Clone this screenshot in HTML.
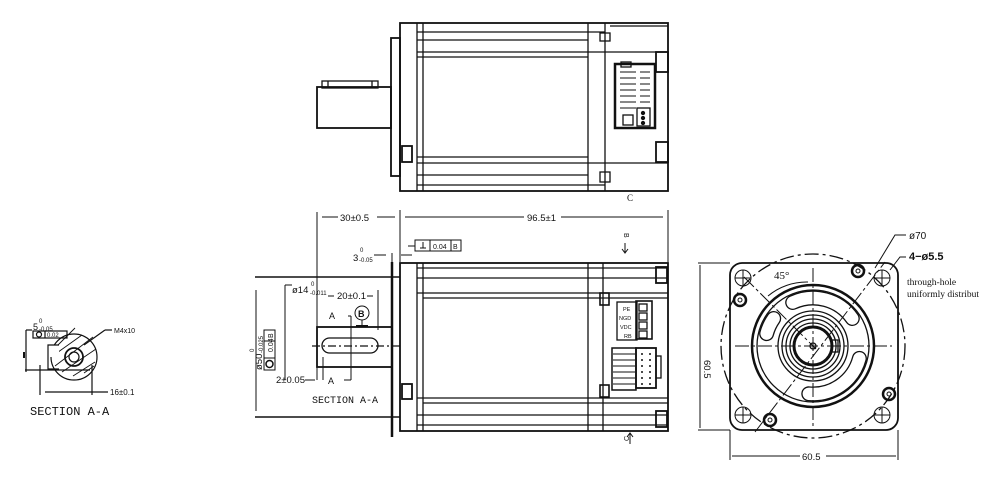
<!DOCTYPE html>
<html><head><meta charset="utf-8"><style>
html,body{margin:0;padding:0;background:#fff;}
svg{display:block}
text{font-family:"Liberation Sans",sans-serif;fill:#111}
.m{font-family:"Liberation Mono",monospace}
.s{font-family:"Liberation Serif",serif}
</style></head><body>
<svg width="1000" height="490" viewBox="0 0 1000 490" xmlns="http://www.w3.org/2000/svg" fill="none" stroke="#111" stroke-width="1.3">
<!-- ===== TOP VIEW ===== -->
<rect x="400" y="23" width="268" height="168" stroke-width="1.8"/>
<rect x="391" y="38" width="9" height="138" stroke-width="1.8"/>
<rect x="317" y="87" width="74" height="41" stroke-width="1.8"/>
<rect x="322" y="81" width="56" height="7"/>
<line x1="328" y1="81" x2="328" y2="88"/><line x1="372" y1="81" x2="372" y2="88"/>
<line x1="417" y1="23" x2="417" y2="191"/><line x1="423" y1="23" x2="423" y2="191"/>
<line x1="588" y1="23" x2="588" y2="191"/><line x1="605" y1="23" x2="605" y2="191"/>
<line x1="417" y1="32" x2="605" y2="32"/><line x1="417" y1="40" x2="588" y2="40"/>
<line x1="417" y1="52" x2="668" y2="52"/><line x1="417" y1="57" x2="588" y2="57"/>
<line x1="417" y1="157" x2="588" y2="157"/><line x1="417" y1="163" x2="668" y2="163"/>
<line x1="417" y1="175" x2="588" y2="175"/><line x1="417" y1="185" x2="605" y2="185"/>
<line x1="610" y1="26" x2="668" y2="26"/>
<rect x="600" y="33" width="10" height="8"/><rect x="600" y="172" width="10" height="10"/>
<rect x="402" y="146" width="10" height="16" stroke-width="1.8"/>
<rect x="656" y="52" width="12" height="20" stroke-width="1.8"/><rect x="656" y="142" width="12" height="20" stroke-width="1.8"/>
<rect x="615" y="64" width="40" height="64" stroke-width="2.5"/>
<rect x="621" y="62" width="10" height="5"/>
<g stroke-width="1"><line x1="620" y1="72" x2="636" y2="72"/><line x1="620" y1="78" x2="636" y2="78"/><line x1="620" y1="84" x2="636" y2="84"/><line x1="620" y1="90" x2="636" y2="90"/><line x1="620" y1="96" x2="636" y2="96"/><line x1="620" y1="102" x2="636" y2="102"/><line x1="620" y1="108" x2="636" y2="108"/>
<line x1="640" y1="72" x2="650" y2="72"/><line x1="640" y1="78" x2="650" y2="78"/><line x1="640" y1="84" x2="650" y2="84"/><line x1="640" y1="90" x2="650" y2="90"/><line x1="640" y1="96" x2="650" y2="96"/><line x1="640" y1="102" x2="650" y2="102"/></g>
<rect x="637" y="108" width="13" height="18"/><rect x="623" y="115" width="10" height="10"/>
<circle cx="643" cy="113" r="1.5" fill="#111"/><circle cx="643" cy="118" r="1.5" fill="#111"/><circle cx="643" cy="123" r="1.5" fill="#111"/>
<text x="627" y="201" font-size="9" stroke="none" class="s">C</text>

<!-- ===== SIDE VIEW (bottom) ===== -->
<rect x="400" y="263" width="268" height="168" stroke-width="1.8"/>
<line x1="392" y1="262" x2="392" y2="437" stroke-width="2.5"/>
<line x1="255" y1="277" x2="400" y2="277" stroke-width="1.5"/>
<line x1="255" y1="417" x2="400" y2="417" stroke-width="1.5"/>
<rect x="317" y="327" width="75" height="40" stroke-width="1.8"/>
<rect x="322" y="338" width="56" height="15" rx="7.5"/>
<line x1="312" y1="346" x2="400" y2="346" stroke-dasharray="8 3 2 3"/>
<line x1="417" y1="263" x2="417" y2="431"/><line x1="423" y1="263" x2="423" y2="431"/>
<line x1="588" y1="263" x2="588" y2="431"/><line x1="603" y1="263" x2="603" y2="431"/>
<line x1="417" y1="268" x2="668" y2="268"/><line x1="417" y1="278" x2="668" y2="278"/>
<line x1="417" y1="293" x2="668" y2="293"/><line x1="423" y1="298" x2="668" y2="298"/>
<line x1="417" y1="398" x2="668" y2="398"/><line x1="423" y1="403" x2="668" y2="403"/>
<line x1="417" y1="415" x2="668" y2="415"/><line x1="417" y1="425" x2="668" y2="425"/>
<rect x="402" y="384" width="10" height="15" stroke-width="1.8"/>
<rect x="600" y="293" width="9" height="12" stroke-width="1.6"/><rect x="600" y="385" width="9" height="12" stroke-width="1.6"/>
<rect x="656" y="267" width="11" height="16" stroke-width="1.8"/><rect x="656" y="411" width="11" height="16" stroke-width="1.8"/>
<rect x="617" y="302" width="20" height="38"/>
<g stroke="none" font-size="5.5"><text x="623" y="311">PE</text><text x="619" y="320">NGD</text><text x="620" y="329">VDC</text><text x="624" y="338">RB</text></g>
<rect x="636" y="301" width="16" height="38" stroke-width="1.6"/>
<rect x="639" y="304" width="8" height="7"/><rect x="639" y="313" width="8" height="7"/><rect x="639" y="322" width="8" height="7"/><rect x="639" y="331" width="8" height="7"/>
<rect x="612" y="348" width="24" height="42" stroke-width="1.5"/>
<g stroke-width="1"><line x1="613" y1="354" x2="635" y2="354"/><line x1="613" y1="360" x2="635" y2="360"/><line x1="613" y1="366" x2="635" y2="366"/><line x1="613" y1="372" x2="635" y2="372"/><line x1="613" y1="378" x2="635" y2="378"/><line x1="613" y1="384" x2="635" y2="384"/></g>
<rect x="636" y="348" width="20" height="40" stroke-width="1.8"/>
<rect x="656" y="356" width="5" height="22"/>
<g fill="#111" stroke="none">
<circle cx="642" cy="354" r="1"/><circle cx="650" cy="354" r="1"/><circle cx="642" cy="360" r="1"/><circle cx="650" cy="360" r="1"/><circle cx="642" cy="366" r="1"/><circle cx="650" cy="366" r="1"/><circle cx="642" cy="372" r="1"/><circle cx="650" cy="372" r="1"/><circle cx="642" cy="378" r="1"/><circle cx="650" cy="378" r="1"/><circle cx="642" cy="384" r="1"/><circle cx="650" cy="384" r="1"/></g>

<!-- dimensions -->
<g stroke-width="1">
<line x1="317" y1="212" x2="317" y2="330"/><line x1="400" y1="210" x2="400" y2="262"/><line x1="668" y1="210" x2="668" y2="262"/>
<line x1="322" y1="217" x2="338" y2="217"/><line x1="377" y1="217" x2="395" y2="217"/>
<line x1="405" y1="217" x2="524" y2="217"/><line x1="561" y1="217" x2="663" y2="217"/>
<line x1="374" y1="255" x2="386" y2="255"/><line x1="392" y1="253" x2="392" y2="262"/><line x1="401" y1="255" x2="412" y2="255"/>
<line x1="408" y1="246" x2="415" y2="246"/>
<rect x="415" y="240" width="46" height="11"/><line x1="430" y1="240" x2="430" y2="251"/><line x1="451" y1="240" x2="451" y2="251"/>
<line x1="420" y1="248" x2="426" y2="248"/><line x1="423" y1="242" x2="423" y2="248"/>
<line x1="285" y1="285" x2="285" y2="380"/><line x1="285" y1="285" x2="292" y2="285"/>
<line x1="317" y1="357" x2="317" y2="380"/><line x1="323" y1="357" x2="323" y2="380"/>
<line x1="328" y1="296" x2="334" y2="296"/><line x1="367" y1="296" x2="373" y2="296"/><line x1="378" y1="290" x2="378" y2="330"/>
<line x1="348" y1="316" x2="351" y2="316"/><line x1="351" y1="316" x2="351" y2="380"/><line x1="344" y1="380" x2="351" y2="380"/>
<line x1="305" y1="380" x2="315" y2="380"/>
<circle cx="362" cy="313" r="7"/><line x1="362" y1="320" x2="362" y2="326"/><line x1="356" y1="326" x2="368" y2="326" stroke-width="2"/>
<line x1="256" y1="290" x2="256" y2="411"/>
<rect x="264" y="330" width="11" height="40"/><line x1="264" y1="341" x2="275" y2="341"/><line x1="264" y1="358" x2="275" y2="358"/>
<circle cx="269.5" cy="364" r="3.5" stroke-width="1.5"/>
<line x1="625" y1="243" x2="625" y2="252"/><path d="M622 249 L625 253 L628 249"/>
<line x1="630" y1="433" x2="630" y2="444"/><path d="M627 437 L630 433 L633 437"/>
</g>
<g stroke="none" font-size="9.5">
<text x="340" y="221">30±0.5</text><text x="527" y="221">96.5±1</text>
<text x="353" y="261">3</text><text x="360" y="252" font-size="6">0</text><text x="359" y="262" font-size="6">-0.05</text>
<text x="433" y="249" font-size="7">0.04</text><text x="453" y="249" font-size="7">B</text>
<text x="292" y="293">ø14</text><text x="311" y="286" font-size="6">0</text><text x="310" y="295" font-size="6">-0.011</text>
<text x="337" y="299">20±0.1</text>
<text x="329" y="319" font-size="9">A</text><text x="358" y="317" font-size="9" font-weight="bold">B</text>
<text x="276" y="383">2±0.05</text><text x="328" y="384" font-size="9">A</text>
<text x="312" y="403" class="m" font-size="10">SECTION A-A</text>
<text x="624" y="233" font-size="7" transform="rotate(90 624 233)">B</text>
<text x="629" y="441" font-size="7" transform="rotate(-90 629 441)">C</text>
<g transform="rotate(-90 262 370)"><text x="262" y="370">ø50</text><text x="280" y="362" font-size="6">0</text><text x="279" y="371" font-size="6">-0.025</text></g>
<text x="273" y="352" font-size="7" transform="rotate(-90 273 352)">0.04</text>
<text x="273" y="338" font-size="7" transform="rotate(-90 273 338)">B</text>
</g>

<!-- ===== FRONT VIEW ===== -->
<rect x="730" y="263" width="168" height="167" rx="12" stroke-width="1.8"/>
<circle cx="813" cy="346" r="92" stroke-dasharray="14 4 3 4"/>
<circle cx="813" cy="346" r="61" stroke-width="2.5"/>
<circle cx="813" cy="346" r="35"/><circle cx="813" cy="346" r="31"/><circle cx="813" cy="346" r="27"/><circle cx="813" cy="346" r="23"/>
<circle cx="813" cy="346" r="19" stroke-width="3"/>
<circle cx="813" cy="346" r="3"/>
<rect x="832" y="340" width="6" height="12"/>
<g stroke-width="15" stroke-linecap="round"><path d="M792.7 302.5 A48 48 0 0 1 852.3 318.5"/><path d="M859.4 358.4 A48 48 0 0 1 808.8 393.8"/><path d="M766.6 333.6 A48 48 0 0 1 773.7 318.5"/></g>
<g stroke-width="12.4" stroke="#fff" stroke-linecap="round"><path d="M792.7 302.5 A48 48 0 0 1 852.3 318.5"/><path d="M859.4 358.4 A48 48 0 0 1 808.8 393.8"/><path d="M766.6 333.6 A48 48 0 0 1 773.7 318.5"/></g>
<circle cx="813" cy="346" r="56"/>
<g stroke-width="1" stroke-dasharray="14 3 3 3">
<line x1="735" y1="346" x2="892" y2="346"/><line x1="813" y1="268" x2="813" y2="428"/>
<line x1="744" y1="277" x2="816" y2="349"/><line x1="755" y1="432" x2="885" y2="262"/></g>
<path d="M768 296 A60 60 0 0 1 808 282" stroke-width="1"/>
<g stroke-width="1">
<circle cx="743" cy="278" r="8"/><circle cx="882" cy="278" r="8"/><circle cx="743" cy="415" r="8"/><circle cx="882" cy="415" r="8"/>
<path d="M735 278h16M743 270v16M874 278h16M882 270v16M735 415h16M743 407v16M874 415h16M882 407v16"/></g>
<g stroke-width="2.5"><circle cx="858" cy="271" r="6"/><circle cx="740" cy="300" r="6"/><circle cx="770" cy="420" r="6"/><circle cx="889" cy="394" r="6"/></g>
<g stroke-width="1"><circle cx="858" cy="271" r="2"/><circle cx="740" cy="300" r="2"/><circle cx="770" cy="420" r="2"/><circle cx="889" cy="394" r="2"/>
<line x1="698" y1="263" x2="730" y2="263"/><line x1="698" y1="430" x2="730" y2="430"/><line x1="700" y1="265" x2="700" y2="428"/>
<line x1="730" y1="430" x2="730" y2="460"/><line x1="898" y1="430" x2="898" y2="460"/><line x1="732" y1="456" x2="800" y2="456"/><line x1="826" y1="456" x2="896" y2="456"/>
<path d="M875 268 L895 235 L906 235"/><path d="M890 270 L900 257 L906 257"/></g>
<g stroke="none">
<text x="909" y="239" font-size="10">ø70</text>
<text x="909" y="260" font-size="11" font-weight="bold">4−ø5.5</text>
<text x="907" y="285" font-size="9.5" class="s">through-hole</text>
<text x="907" y="297" font-size="9.5" class="s">uniformly distribut</text>
<text x="774" y="279" font-size="11" class="s">45°</text>
<text x="802" y="460" font-size="9.5">60.5</text>
<text x="704" y="360" font-size="9.5" transform="rotate(90 704 360)">60.5</text>
</g>

<!-- ===== SECTION A-A (left) ===== -->
<g stroke-width="1.2">
<circle cx="74" cy="357" r="23"/>
<circle cx="74" cy="357" r="9" stroke-width="1.8"/><circle cx="74" cy="357" r="5"/>
<g stroke-width="0.9"><path d="M58 345 L75 328M54 355 L82 335M55 366 L93 337M62 372 L96 349M73 376 L95 362M84 373L94 366"/></g>
<rect x="47" y="345" width="12" height="12" fill="#fff" stroke="none"/>
<path d="M59 345 H48 V369 H59"/>
<line x1="26" y1="330" x2="26" y2="372"/><line x1="26" y1="330" x2="32" y2="330"/>
<line x1="24" y1="352" x2="24" y2="358" stroke-width="2"/>
<line x1="25" y1="370" x2="90" y2="370"/>
<line x1="40" y1="365" x2="40" y2="395"/><line x1="92" y1="365" x2="92" y2="395"/>
<line x1="45" y1="392" x2="108" y2="392"/>
<line x1="84" y1="345" x2="105" y2="330" /><line x1="105" y1="330" x2="112" y2="330"/>
<rect x="33" y="331" width="34" height="7"/><line x1="45" y1="331" x2="45" y2="338"/>
<circle cx="39" cy="334.5" r="2.5"/>
</g>
<g stroke="none">
<text x="33" y="330" font-size="9">5</text><text x="39" y="323" font-size="6">0</text><text x="39" y="331" font-size="6">-0.05</text>
<text x="47" y="337" font-size="6">0.02</text>
<text x="114" y="333" font-size="7">M4x10</text>
<text x="110" y="395" font-size="8">16±0.1</text>
<text x="30" y="415" font-size="12" class="m">SECTION A-A</text>
</g>
</svg>
</body></html>
